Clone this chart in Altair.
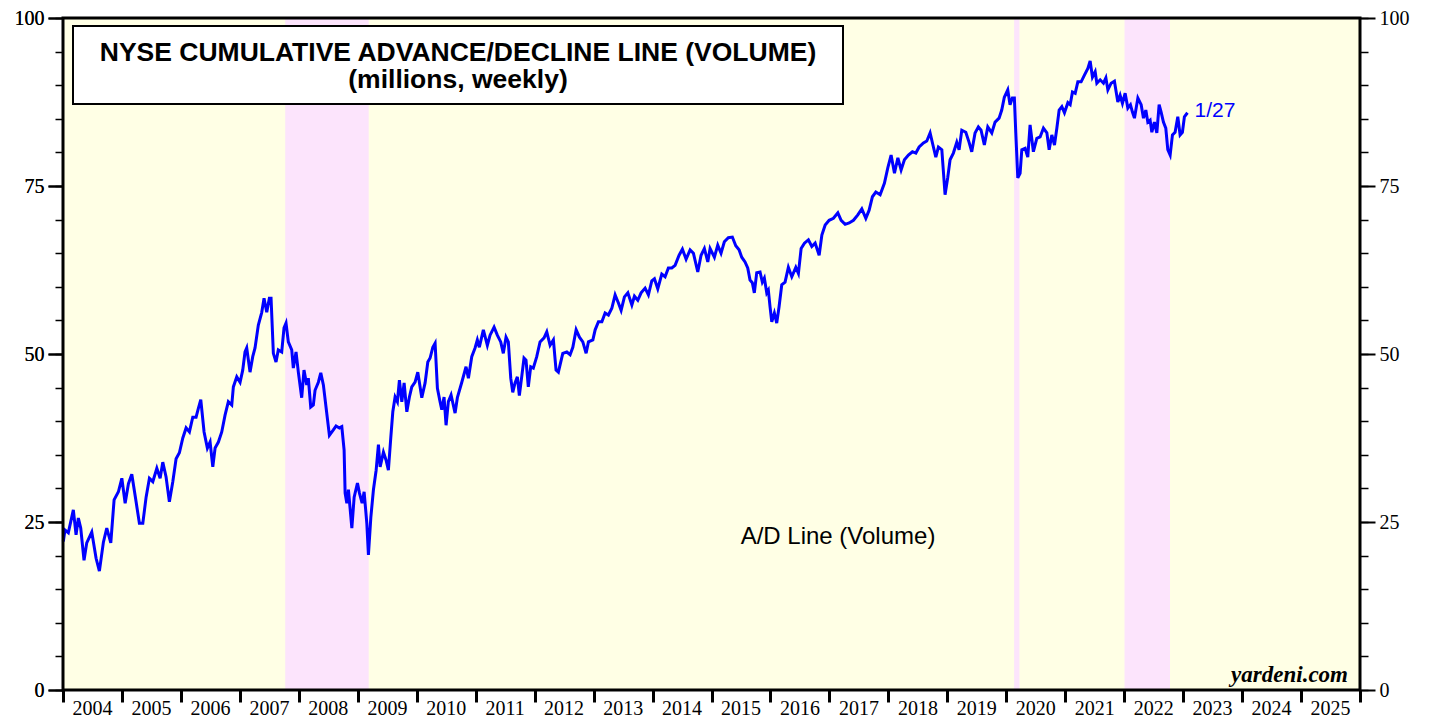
import math
import altair as alt
import pandas as pd

# ---- data (decimal year, A/D line value in millions) ----
t_2004_2008 = [
    2004.005, 2004.034, 2004.090, 2004.175, 2004.221, 2004.260, 2004.300, 2004.356, 2004.402, 2004.487,
    2004.560, 2004.616, 2004.684, 2004.741, 2004.809, 2004.865, 2004.938, 2004.996, 2005.052, 2005.108,
    2005.165, 2005.238, 2005.294, 2005.352, 2005.408, 2005.464, 2005.522, 2005.590, 2005.646, 2005.691,
    2005.747, 2005.803, 2005.861, 2005.917, 2005.973, 2006.031, 2006.087, 2006.143, 2006.200, 2006.256,
    2006.295, 2006.336, 2006.392, 2006.448, 2006.494, 2006.540, 2006.579, 2006.635, 2006.692, 2006.748,
    2006.804, 2006.862, 2006.889, 2006.947, 2007.003, 2007.048, 2007.087, 2007.116, 2007.172, 2007.218,
    2007.257, 2007.313, 2007.371, 2007.410, 2007.456, 2007.500, 2007.529, 2007.568, 2007.613, 2007.652,
    2007.710, 2007.749, 2007.783, 2007.822, 2007.880, 2007.907, 2007.953, 2007.992, 2008.049, 2008.088,
    2008.134, 2008.161, 2008.202, 2008.246, 2008.275, 2008.331, 2008.372, 2008.416, 2008.462, 2008.518,
    2008.585, 2008.631, 2008.687, 2008.728,
]
v_2004_2008 = [
    22.1, 23.8, 23.4, 26.8, 23.1, 25.6, 24.1, 19.3, 21.9, 23.5,
    19.6, 17.7, 22.0, 24.1, 21.9, 28.3, 29.5, 31.5, 27.8, 30.7,
    32.1, 28.0, 24.8, 24.8, 28.7, 31.5, 31.0, 33.0, 31.5, 33.9,
    31.7, 28.0, 31.0, 34.4, 35.3, 37.5, 39.0, 38.4, 40.6, 40.6,
    41.9, 43.2, 38.4, 36.0, 36.9, 33.2, 36.0, 36.9, 38.4, 40.9,
    42.9, 42.4, 45.1, 46.6, 45.8, 47.6, 50.3, 50.9, 47.3, 49.6,
    50.9, 54.3, 56.2, 58.3, 56.2, 58.3, 58.3, 50.1, 48.8, 50.6,
    50.3, 53.9, 54.6, 51.8, 50.6, 47.9, 50.3, 47.3, 43.5, 47.6,
    45.4, 46.4, 42.1, 42.4, 44.6, 45.8, 47.2, 45.4, 42.0, 37.9,
    38.7, 39.3, 39.0, 39.2,
]

t_2008_2013 = [
    2008.767, 2008.784, 2008.813, 2008.840, 2008.898, 2008.937, 2008.993, 2009.027, 2009.072, 2009.106,
    2009.152, 2009.179, 2009.220, 2009.264, 2009.310, 2009.349, 2009.378, 2009.434, 2009.479, 2009.518,
    2009.559, 2009.593, 2009.632, 2009.671, 2009.705, 2009.746, 2009.785, 2009.831, 2009.875, 2009.915,
    2009.971, 2010.017, 2010.085, 2010.141, 2010.187, 2010.226, 2010.272, 2010.311, 2010.350, 2010.395,
    2010.424, 2010.463, 2010.497, 2010.536, 2010.582, 2010.650, 2010.689, 2010.764, 2010.836, 2010.876,
    2010.933, 2010.989, 2011.028, 2011.062, 2011.130, 2011.198, 2011.244, 2011.312, 2011.367, 2011.425,
    2011.469, 2011.515, 2011.554, 2011.595, 2011.629, 2011.668, 2011.707, 2011.741, 2011.781, 2011.820,
    2011.854, 2011.893, 2011.934, 2011.978, 2012.036, 2012.092, 2012.160, 2012.206, 2012.262, 2012.318,
    2012.363, 2012.402, 2012.477, 2012.545, 2012.601, 2012.647, 2012.703, 2012.759, 2012.816, 2012.872,
    2012.911, 2012.986, 2013.025, 2013.081, 2013.139, 2013.194, 2013.250, 2013.308, 2013.364,
]
v_2008_2013 = [
    35.7, 29.3, 27.8, 29.8, 24.1, 28.7, 30.8, 29.3, 27.8, 29.5,
    24.8, 20.1, 25.7, 29.8, 32.7, 36.5, 33.2, 35.4, 34.2, 32.7,
    37.6, 41.4, 43.6, 42.9, 46.1, 42.9, 45.7, 41.4, 43.6, 45.1,
    45.8, 47.3, 43.5, 45.7, 48.8, 49.4, 51.0, 51.6, 44.9, 42.9,
    41.7, 43.6, 39.4, 42.9, 43.9, 41.2, 43.5, 45.8, 48.1, 46.4,
    49.6, 50.9, 52.1, 51.0, 53.6, 51.3, 52.8, 54.0, 52.8, 51.8,
    50.1, 52.5, 51.8, 46.4, 44.3, 45.7, 46.6, 43.8, 46.6, 49.4,
    49.1, 45.1, 48.1, 47.9, 49.6, 51.8, 52.4, 53.3, 51.3, 52.1,
    47.6, 47.3, 50.1, 50.3, 49.9, 51.0, 53.6, 52.5, 51.8, 50.1,
    51.8, 52.1, 53.6, 54.8, 54.8, 56.1, 55.8, 56.8, 58.8,
]

t_2013_2018 = [
    2013.420, 2013.466, 2013.522, 2013.580, 2013.648, 2013.692, 2013.749, 2013.805, 2013.873, 2013.929,
    2013.987, 2014.031, 2014.088, 2014.156, 2014.212, 2014.268, 2014.326, 2014.382, 2014.450, 2014.506,
    2014.569, 2014.637, 2014.693, 2014.767, 2014.823, 2014.879, 2014.937, 2014.976, 2015.049, 2015.106,
    2015.162, 2015.218, 2015.286, 2015.354, 2015.412, 2015.468, 2015.513, 2015.569, 2015.615, 2015.654,
    2015.693, 2015.727, 2015.768, 2015.824, 2015.863, 2015.897, 2015.938, 2015.965, 2015.994, 2016.023,
    2016.067, 2016.107, 2016.146, 2016.192, 2016.248, 2016.304, 2016.362, 2016.430, 2016.474, 2016.520,
    2016.576, 2016.643, 2016.701, 2016.757, 2016.825, 2016.871, 2016.927, 2016.994, 2017.067, 2017.142,
    2017.198, 2017.266, 2017.334, 2017.407, 2017.481, 2017.549, 2017.617, 2017.673, 2017.729, 2017.787,
    2017.860, 2017.932, 2017.990, 2018.046, 2018.103, 2018.161,
]
v_2013_2018 = [
    57.6, 56.5, 58.5, 59.1, 57.3, 58.6, 58.0, 59.1, 59.8, 58.8,
    60.9, 61.2, 59.7, 61.9, 61.5, 62.8, 62.8, 63.2, 64.7, 65.6,
    64.1, 65.5, 65.0, 62.2, 64.7, 65.7, 63.7, 65.7, 64.4, 66.2,
    65.0, 66.7, 67.3, 67.4, 66.1, 65.5, 64.4, 63.7, 62.8, 61.0,
    60.6, 59.1, 62.1, 62.2, 60.7, 61.3, 59.1, 59.5, 57.0, 54.8,
    56.1, 54.6, 57.0, 60.3, 60.7, 62.9, 61.5, 62.9, 62.0, 65.7,
    66.5, 67.0, 66.0, 66.5, 64.7, 67.7, 69.2, 69.9, 70.2, 71.0,
    69.9, 69.3, 69.5, 69.9, 70.7, 71.6, 70.2, 71.4, 73.4, 74.1,
    73.7, 75.4, 77.7, 79.6, 76.9, 79.2,
]

t_2018_2023 = [
    2018.216, 2018.272, 2018.340, 2018.408, 2018.466, 2018.522, 2018.595, 2018.652, 2018.708, 2018.764,
    2018.805, 2018.849, 2018.907, 2018.962, 2019.008, 2019.047, 2019.103, 2019.161, 2019.200, 2019.246,
    2019.314, 2019.370, 2019.415, 2019.471, 2019.527, 2019.573, 2019.629, 2019.687, 2019.755, 2019.811,
    2019.879, 2019.924, 2019.968, 2020.026, 2020.065, 2020.104, 2020.138, 2020.162, 2020.196, 2020.235,
    2020.264, 2020.320, 2020.365, 2020.404, 2020.460, 2020.518, 2020.574, 2020.630, 2020.688, 2020.727,
    2020.772, 2020.817, 2020.857, 2020.896, 2020.942, 2020.986, 2021.044, 2021.083, 2021.122, 2021.168,
    2021.213, 2021.269, 2021.325, 2021.383, 2021.422, 2021.461, 2021.507, 2021.536, 2021.592, 2021.648,
    2021.689, 2021.723, 2021.778, 2021.834, 2021.892, 2021.931, 2021.970, 2022.016, 2022.062, 2022.106,
    2022.140, 2022.174, 2022.232, 2022.288, 2022.327, 2022.367, 2022.401, 2022.440, 2022.469, 2022.513,
    2022.554, 2022.593, 2022.627, 2022.666, 2022.706, 2022.740, 2022.780, 2022.819, 2022.864, 2022.910,
    2022.949, 2022.988, 2023.022, 2023.074,
]
v_2018_2023 = [
    77.4, 78.9, 79.6, 80.1, 79.9, 80.8, 81.4, 81.7, 82.9, 80.8,
    79.3, 80.8, 80.4, 73.7, 76.3, 78.9, 79.9, 81.5, 80.4, 83.3,
    83.0, 81.5, 80.1, 82.9, 83.8, 83.3, 81.1, 83.8, 82.9, 84.5,
    85.1, 86.3, 88.2, 89.3, 87.1, 88.1, 88.1, 82.9, 76.2, 76.9,
    80.4, 80.6, 79.3, 84.1, 80.1, 82.1, 82.3, 83.6, 82.9, 80.4,
    82.6, 81.1, 83.6, 86.3, 86.8, 85.9, 87.4, 87.1, 89.0, 88.8,
    90.5, 90.5, 91.5, 92.5, 93.6, 91.2, 92.0, 90.3, 90.8, 90.3,
    91.1, 89.3, 90.3, 90.6, 87.5, 88.5, 87.3, 88.8, 86.6, 87.1,
    86.0, 85.1, 88.1, 87.1, 85.1, 86.3, 84.5, 84.8, 83.0, 84.5,
    82.9, 87.1, 86.0, 84.5, 83.6, 80.4, 79.6, 82.6, 83.0, 85.3,
    82.6, 83.0, 85.3, 85.9,
]

# shaded (pink) periods
band_start = ["2007-10-09", "2020-02-19", "2022-01-03"]
band_end = ["2009-03-09", "2020-03-23", "2022-10-12"]

y_major = [0, 25, 50, 75, 100]
y_minor = list(range(0, 101, 5))
year_ticks = list(range(2004, 2027))

title_line1 = "NYSE CUMULATIVE ADVANCE/DECLINE LINE (VOLUME)"
title_line2 = "(millions, weekly)"
series_label = "A/D Line (Volume)"
end_label = "1/27"
source_label = "yardeni.com"


def to_ts(x):
    yr = int(math.floor(x))
    start = pd.Timestamp(yr, 1, 1)
    end = pd.Timestamp(yr + 1, 1, 1)
    return (start + (end - start) * (x - yr)).strftime("%Y-%m-%dT%H:%M:%S")


t_all = t_2004_2008 + t_2008_2013 + t_2013_2018 + t_2018_2023
v_all = v_2004_2008 + v_2008_2013 + v_2013_2018 + v_2018_2023
df = pd.DataFrame({"date": [to_ts(x) for x in t_all], "v": v_all})
bands_df = pd.DataFrame({"start": [s + "T00:00:00" for s in band_start],
                         "end": [e + "T00:00:00" for e in band_end]})
end_df = pd.DataFrame({"date": [df["date"].iloc[-1]], "v": [df["v"].iloc[-1]], "label": [end_label]})
one = pd.DataFrame({"a": [0]})

W, H = 1297, 672

x_scale = alt.Scale(domain=[alt.DateTime(year=2004, month=1, date=1),
                            alt.DateTime(year=2026, month=1, date=1)])
y_scale = alt.Scale(domain=[0, 100], nice=False, zero=False)

x_axis = alt.Axis(
    values=[alt.DateTime(year=y, month=1, date=1) for y in year_ticks],
    labelExpr="year(datum.value) > 2025 ? '' : timeFormat(datum.value, '%Y')",
    labelOffset=29, labelFlush=False, labelOverlap=False,
    tickSize=12, tickWidth=3, tickColor="black",
    labelFont="Liberation Serif", labelFontSize=20, labelColor="black",
    labelBaseline="alphabetic", labelPadding=12,
    domain=False, grid=False, title=None,
)


def y_axis(orient, major):
    if major:
        return alt.Axis(orient=orient, values=y_major, tickSize=15, tickWidth=2, tickColor="black",
                        labelFont="Liberation Serif", labelFontSize=20, labelColor="black",
                        labelPadding=4, domain=False, grid=False, title=None)
    return alt.Axis(orient=orient, values=y_minor, labels=False, tickSize=8, tickWidth=1.5,
                    tickColor="black", domain=False, grid=False, title=None)


base = alt.Chart(df)

bands = alt.Chart(bands_df).mark_rect(color="#FCE4FC").encode(
    x=alt.X("start:T", scale=x_scale, axis=x_axis),
    x2="end:T",
    y=alt.value(0), y2=alt.value(H),
)

ghosts = []
for orient, major in [("left", False), ("right", True), ("right", False)]:
    ghosts.append(base.mark_line(opacity=0).encode(
        x=alt.X("date:T", scale=x_scale, axis=x_axis),
        y=alt.Y("v:Q", scale=y_scale, axis=y_axis(orient, major)),
    ))

line = base.mark_line(color="#0000FF", strokeWidth=3).encode(
    x=alt.X("date:T", scale=x_scale, axis=x_axis),
    y=alt.Y("v:Q", scale=y_scale, axis=y_axis("left", True)),
)

frame = alt.Chart(one).mark_rect(fillOpacity=0, stroke="black", strokeWidth=3).encode(
    x=alt.value(0), x2=alt.value(W), y=alt.value(0), y2=alt.value(H))

box = alt.Chart(one).mark_rect(fill="white", stroke="black", strokeWidth=2).encode(
    x=alt.value(10), x2=alt.value(780), y=alt.value(8), y2=alt.value(86))

t1 = alt.Chart(one).mark_text(text=title_line1, font="Liberation Sans", fontWeight="bold",
                              fontSize=26.5, color="black", align="center", baseline="middle").encode(
    x=alt.value(395), y=alt.value(35))
t2 = alt.Chart(one).mark_text(text=title_line2, font="Liberation Sans", fontWeight="bold",
                              fontSize=26.5, color="black", align="center", baseline="middle").encode(
    x=alt.value(395), y=alt.value(62))

ad_text = alt.Chart(one).mark_text(text=series_label, font="Liberation Sans", fontSize=24,
                                   color="black", align="center", baseline="middle").encode(
    x=alt.value(775), y=alt.value(519))

end_text = alt.Chart(end_df).mark_text(font="Liberation Sans", fontSize=21, color="#0000FF",
                                       align="left", baseline="middle", dx=7, dy=-2).encode(
    x=alt.X("date:T", scale=x_scale, axis=x_axis),
    y=alt.Y("v:Q", scale=y_scale, axis=y_axis("left", True)),
    text="label:N",
)

src_text = alt.Chart(one).mark_text(text=source_label, font="Liberation Serif", fontWeight="bold",
                                    fontStyle="italic", fontSize=23, color="black",
                                    align="right", baseline="middle").encode(
    x=alt.value(1285), y=alt.value(657))

chart = alt.layer(
    bands, *ghosts, line, end_text, frame, box, t1, t2, ad_text, src_text
).resolve_axis(y="independent").properties(
    width=W, height=H,
    padding={"left": 55, "top": 10, "right": 60, "bottom": 29},
    autosize=alt.AutoSizeParams(type="none"),
).configure_view(fill="#FFFFE5", stroke="transparent")

chart.save("out.html", embed_options={"renderer": "svg", "actions": False})
